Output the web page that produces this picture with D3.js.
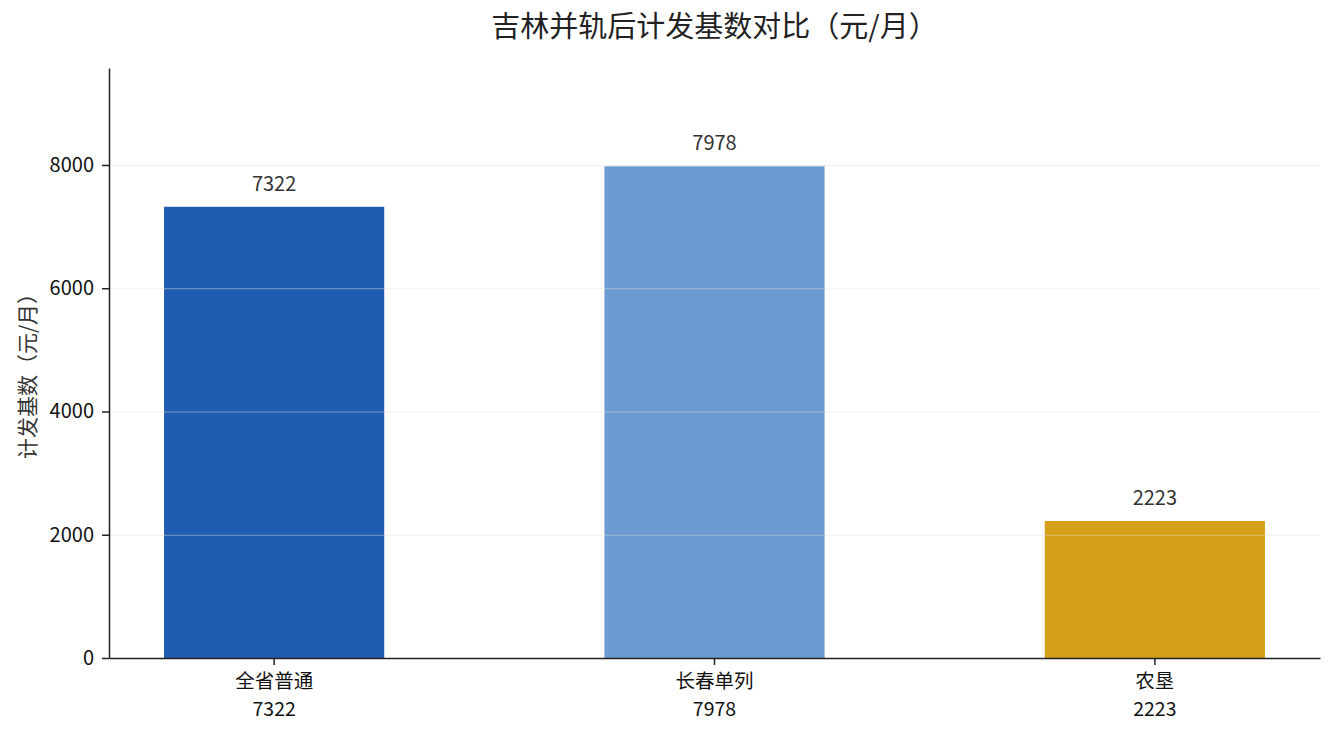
<!DOCTYPE html>
<html>
<head>
<meta charset="utf-8">
<script src="https://cdn.jsdelivr.net/npm/d3@7"></script>
<style>
    body { margin: 0; background: #fff; }
    svg text { font-family: "Noto Sans CJK SC", "Noto Sans", sans-serif; }
</style>
</head>
<body>
<div id="chart"></div>
<script>
// 数据
const categories = ['全省普通', '长春单列', '农垦'];
const values = [7322, 7978, 2223];
const colors = ['#1f5bb0', '#6b9bd2', '#d4a017'];
const title = '吉林并轨后计发基数对比（元/月）';
const yLabel = '计发基数（元/月）';

const width = 1335;
const height = 735;
const margin = {top: 68, right: 15, bottom: 77, left: 109};

const data = categories.map((c, i) => ({name: c, value: values[i], color: colors[i]}));

const svg = d3.select('#chart').append('svg')
    .attr('width', width)
    .attr('height', height);

const x = d3.scaleBand()
    .domain(categories)
    .range([margin.left, width - margin.right])
    .paddingInner(0.5)
    .paddingOuter(0.125);

const y = d3.scaleLinear()
    .domain([0, d3.max(values) * 1.2])
    .range([height - margin.bottom, margin.top]);

// bars
svg.append('g')
  .selectAll('rect')
  .data(data)
  .join('rect')
    .attr('x', d => x(d.name))
    .attr('y', d => y(d.value))
    .attr('width', x.bandwidth())
    .attr('height', d => y(0) - y(d.value))
    .attr('fill', d => d.color);

// grid lines (drawn over the bars, light)
const grid = svg.append('g')
    .attr('transform', `translate(${margin.left},0)`)
    .call(d3.axisLeft(y).ticks(5).tickSize(-(width - margin.left - margin.right)).tickFormat(''));
grid.select('.domain').remove();
grid.selectAll('.tick')
    .filter(d => d === 0)
    .remove();
grid.selectAll('.tick line')
    .attr('stroke', '#dddddd')
    .attr('stroke-opacity', 0.6)
    .attr('stroke-width', 0.8);

// value labels
svg.append('g')
  .selectAll('text')
  .data(data)
  .join('text')
    .attr('x', d => x(d.name) + x.bandwidth() / 2)
    .attr('y', d => y(d.value) - 16)
    .attr('text-anchor', 'middle')
    .attr('fill', '#333')
    .style('font-size', '20px')
    .text(d => d.value);

// x axis, two-line labels (name + value)
const xAxis = svg.append('g')
    .attr('transform', `translate(0,${height - margin.bottom})`)
    .call(d3.axisBottom(x).tickSize(7).tickSizeOuter(0).tickFormat(''));
xAxis.selectAll('.tick').each(function(d, i) {
    const g = d3.select(this);
    g.append('text')
        .attr('y', 30)
        .attr('fill', '#111')
        .attr('text-anchor', 'middle')
        .style('font-size', '19.5px')
        .text(d);
    g.append('text')
        .attr('y', 58)
        .attr('fill', '#111')
        .attr('text-anchor', 'middle')
        .style('font-size', '19.5px')
        .text(values[i]);
});

// y axis
const yAxis = svg.append('g')
    .attr('transform', `translate(${margin.left},0)`)
    .call(d3.axisLeft(y).ticks(5, 'd').tickSize(7).tickSizeOuter(0).tickPadding(8));
yAxis.selectAll('.tick text')
    .attr('fill', '#111')
    .style('font-size', '20px');

[xAxis, yAxis].forEach(g => {
    g.select('.domain').attr('stroke', '#222').attr('stroke-width', 1.5);
    g.selectAll('.tick line').attr('stroke', '#222').attr('stroke-width', 1.5);
});

// title
svg.append('text')
    .attr('x', (margin.left + width - margin.right) / 2)
    .attr('y', 37)
    .attr('text-anchor', 'middle')
    .attr('fill', '#222')
    .style('font-size', '29px')
    .text(title);

// y label
svg.append('text')
    .attr('transform', `translate(35,${(margin.top + height - margin.bottom) / 2 + 8}) rotate(-90)`)
    .attr('text-anchor', 'middle')
    .attr('fill', '#333')
    .style('font-size', '21px')
    .text(yLabel);
</script>
</body>
</html>
